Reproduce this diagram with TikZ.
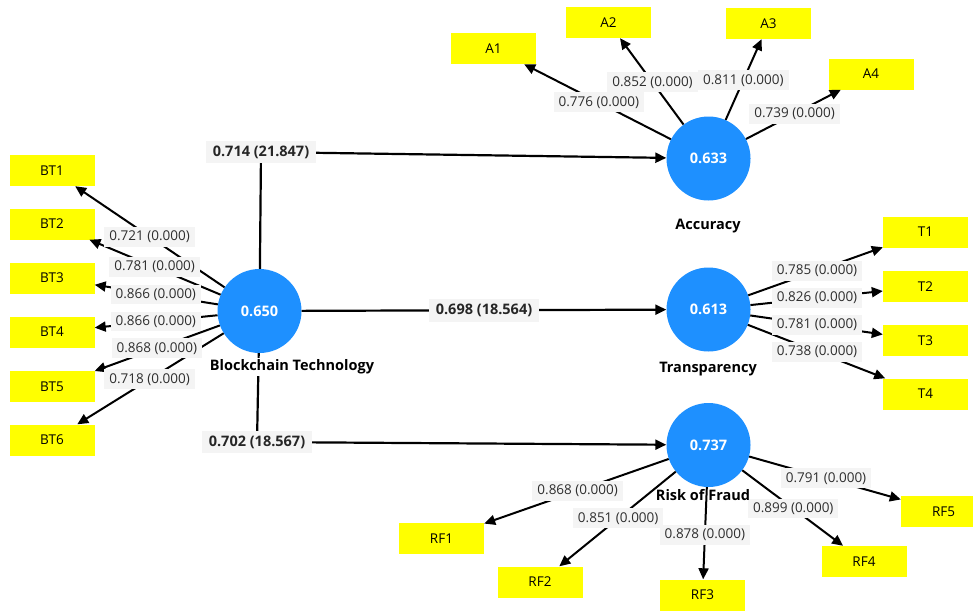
\documentclass[tikz,border=0pt]{standalone}
\usepackage{fontspec}
\setmainfont{Open Sans}
\usetikzlibrary{arrows.meta,calc}
\definecolor{lvblue}{HTML}{1E90FF}
\definecolor{indyellow}{HTML}{FFFF00}
\definecolor{lblbg}{HTML}{F4F4F4}
\definecolor{lbltext}{HTML}{2E2E2E}
\tikzset{
  lv/.style={circle, fill=lvblue, minimum size=84pt, inner sep=0pt, text=white, font=\bfseries\fontsize{14.5}{16}\selectfont},
  ind/.style={fill=indyellow, minimum width=85pt, minimum height=31pt, inner sep=0pt, text=black, font=\fontsize{13.5}{15}\selectfont},
  ld/.style={fill=lblbg, text=lbltext, inner xsep=5pt, inner ysep=4pt, font=\fontsize{13.5}{15}\selectfont},
  pl/.style={fill=lblbg, text=black!85, inner xsep=7pt, inner ysep=5pt, font=\bfseries\fontsize{14.5}{16}\selectfont},
  ttl/.style={text=black, inner sep=2pt, font=\bfseries\fontsize{14.5}{16}\selectfont},
  arr/.style={-{Triangle[length=11pt,width=10pt]}, line width=2pt, black},
  conn/.style={line width=2.2pt, black}
}
\begin{document}
\begin{tikzpicture}[x=1pt,y=-1pt]
\useasboundingbox (0,0) rectangle (973,610);
\clip (0,0) rectangle (973,610);
\fill[white] (0,0) rectangle (973,610);
% latent variables
\node[lv] (BT) at (259.5,311) {0.650};
\node[lv] (ACC) at (708.5,158.5) {0.633};
\node[lv] (TR) at (708.5,309.5) {0.613};
\node[lv] (RF) at (708.5,445) {0.737};
% indicators
\node[ind] (BT1) at (52,170.5) {BT1};
\node[ind] (BT2) at (52,224) {BT2};
\node[ind] (BT3) at (52,278) {BT3};
\node[ind] (BT4) at (52,332) {BT4};
\node[ind] (BT5) at (52,386.5) {BT5};
\node[ind] (BT6) at (52,440) {BT6};
\node[ind] (A1) at (493.5,48.5) {A1};
\node[ind] (A2) at (608.5,22.5) {A2};
\node[ind] (A3) at (768.5,23.5) {A3};
\node[ind] (A4) at (871,74) {A4};
\node[ind] (T1) at (925.5,232) {T1};
\node[ind] (T2) at (925.5,286.5) {T2};
\node[ind] (T3) at (925.5,340.5) {T3};
\node[ind] (T4) at (925.5,394) {T4};
\node[ind] (RF1) at (441.5,538.5) {RF1};
\node[ind] (RF2) at (540,582) {RF2};
\node[ind] (RF3) at (702.5,595) {RF3};
\node[ind] (RF4) at (864,561.5) {RF4};
\node[ind] (RF5) at (943.5,511.5) {RF5};
% bend points
\coordinate (b1) at (261,152);
\coordinate (b2) at (257,442);
% structural paths
\draw[conn, -{Triangle[length=11pt,width=10pt]}] (BT) -- (b1) -- (ACC);
\draw[conn, -{Triangle[length=11pt,width=10pt]}] (BT) -- (TR);
\draw[conn, -{Triangle[length=11pt,width=10pt]}] (BT) -- (b2) -- (RF);
% outer loadings
\foreach \i in {1,...,6} {\draw[arr] (BT) -- (BT\i);}
\foreach \i in {1,...,4} {\draw[arr] (ACC) -- (A\i);}
\foreach \i in {1,...,4} {\draw[arr] (TR) -- (T\i);}
\foreach \i in {1,...,5} {\draw[arr] (RF) -- (RF\i);}
% path labels
\node[pl] (p1) at (b1) {0.714 (21.847)};
\node[pl] (p2) at ($(BT)!0.5!(TR)$) {0.698 (18.564)};
\node[pl] (p3) at (b2) {0.702 (18.567)};
% loading labels
\node[ld] (lbt1) at ($(BT)!0.53!(BT1)$) {0.721 (0.000)};
\node[ld] (lbt2) at ($(BT)!0.505!(BT2)$) {0.781 (0.000)};
\node[ld] (lbt3) at ($(BT)!0.5!(BT3)$) {0.866 (0.000)};
\node[ld] (lbt4) at ($(BT)!0.5!(BT4)$) {0.866 (0.000)};
\node[ld] (lbt5) at ($(BT)!0.495!(BT5)$) {0.868 (0.000)};
\node[ld] (lbt6) at ($(BT)!0.53!(BT6)$) {0.718 (0.000)};
\node[ld] (la1) at ($(ACC)!0.51!(A1)$) {0.776 (0.000)};
\node[ld] (la2) at ($(ACC)!0.56!(A2)$) {0.852 (0.000)};
\node[ld] (la3) at ($(ACC)!0.58!(A3)$) {0.811 (0.000)};
\node[ld] (la4) at ($(ACC)!0.53!(A4)$) {0.739 (0.000)};
\node[ld] (lt1) at ($(TR)!0.5!(T1)$) {0.785 (0.000)};
\node[ld] (lt2) at ($(TR)!0.5!(T2)$) {0.826 (0.000)};
\node[ld] (lt3) at ($(TR)!0.5!(T3)$) {0.781 (0.000)};
\node[ld] (lt4) at ($(TR)!0.5!(T4)$) {0.738 (0.000)};
\node[ld] (lr1) at ($(RF)!0.49!(RF1)$) {0.868 (0.000)};
\node[ld] (lr2) at ($(RF)!0.536!(RF2)$) {0.851 (0.000)};
\node[ld] (lr3) at ($(RF)!0.6!(RF3)$) {0.878 (0.000)};
\node[ld] (lr4) at ($(RF)!0.545!(RF4)$) {0.899 (0.000)};
\node[ld] (lr5) at ($(RF)!0.5!(RF5)$) {0.791 (0.000)};
% construct names
\node[ttl, fill=white] (nBT) at (292,367) {Blockchain Technology};
\node[ttl] (nACC) at (708,226) {Accuracy};
\node[ttl] (nTR) at (708,369) {Transparency};
\node[ttl] (nRF) at (703,495) {Risk of Fraud};
\end{tikzpicture}
\end{document}
